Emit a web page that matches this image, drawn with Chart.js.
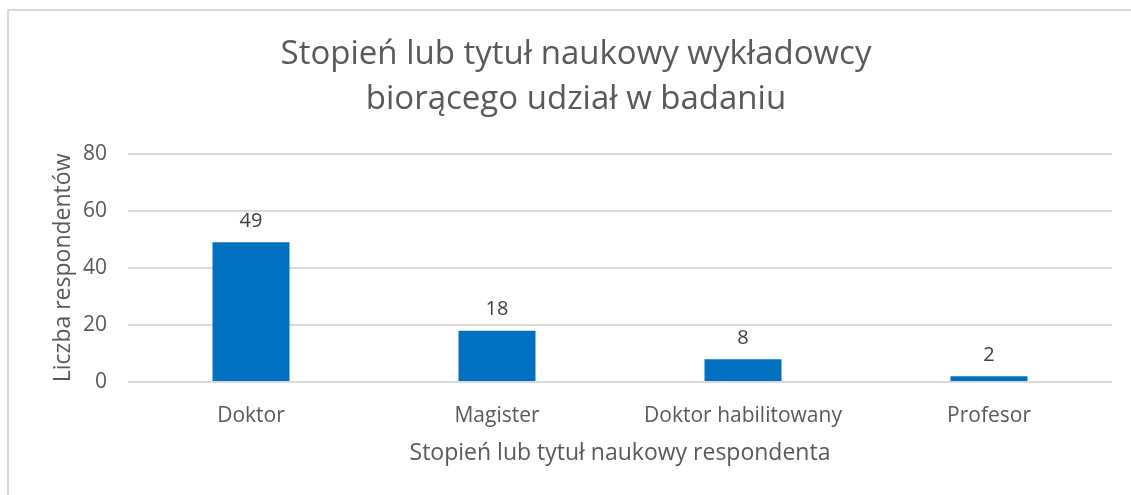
<!DOCTYPE html>
<html>
<head>
<meta charset="utf-8">
<script src="https://cdn.jsdelivr.net/npm/chart.js@4/dist/chart.umd.min.js"></script>
<style>
  html, body { margin: 0; padding: 0; background: #fff; }
  #wrap { width: 1131px; height: 495px; position: relative; }
</style>
</head>
<body>
<div id="wrap"><canvas id="chart"></canvas></div>
<script>
const categories = ["Doktor", "Magister", "Doktor habilitowany", "Profesor"];
const respondents = [49, 18, 8, 2];
const yTicks = [0, 20, 40, 60, 80];

const FONT = "'Open Sans', 'DejaVu Sans', sans-serif";

// thin frame like the Excel chart area (only top and left edges are visible)
const framePlugin = {
  id: "frame",
  beforeDraw(chart) {
    const ctx = chart.ctx;
    ctx.save();
    ctx.strokeStyle = "#d9d9d9";
    ctx.lineWidth = 2;
    ctx.beginPath();
    ctx.moveTo(8, 495);
    ctx.lineTo(8, 10);
    ctx.lineTo(1131, 10);
    ctx.stroke();
    ctx.restore();
  },
};

// value labels above bars
const valueLabels = {
  id: "valueLabels",
  afterDatasetsDraw(chart) {
    const ctx = chart.ctx;
    const meta = chart.getDatasetMeta(0);
    ctx.save();
    ctx.font = "20px " + FONT;
    ctx.fillStyle = "#404040";
    ctx.textAlign = "center";
    ctx.textBaseline = "bottom";
    meta.data.forEach((bar, i) => {
      ctx.fillText(String(respondents[i]), bar.x, bar.y - 11);
    });
    ctx.restore();
  },
};

new Chart(document.getElementById("chart"), {
  type: "bar",
  data: {
    labels: categories,
    datasets: [
      {
        data: respondents,
        backgroundColor: "#0070c0",
        categoryPercentage: 1,
        barPercentage: 0.313,
      },
    ],
  },
  options: {
    responsive: true,
    maintainAspectRatio: false,
    animation: false,
    layout: { padding: { left: 40, right: 19, top: 12, bottom: 28 } },
    plugins: {
      legend: { display: false },
      tooltip: { enabled: false },
      title: {
        display: true,
        text: ["Stopień lub tytuł naukowy wykładowcy", "biorącego udział w badaniu"],
        color: "#595959",
        font: { family: FONT, size: 33, weight: "normal", lineHeight: 1.36 },
        padding: { top: 20, bottom: 32 },
      },
    },
    scales: {
      x: {
        afterFit(scale) {
          scale.height = 85;
        },
        grid: { display: false, drawTicks: false },
        border: { display: false },
        ticks: {
          color: "#595959",
          font: { family: FONT, size: 21 },
          padding: 21,
        },
        title: {
          display: true,
          text: "Stopień lub tytuł naukowy respondenta",
          color: "#595959",
          font: { family: FONT, size: 23 },
          padding: { top: 0, bottom: 0 },
        },
      },
      y: {
        min: 0,
        max: 80,
        afterBuildTicks(scale) {
          scale.ticks = yTicks.map((v) => ({ value: v }));
        },
        afterFit(scale) {
          scale.width = 88;
        },
        grid: { color: "#d9d9d9", lineWidth: 2, drawTicks: false },
        border: { display: false },
        ticks: {
          color: "#595959",
          font: { family: FONT, size: 21 },
          padding: 21,
        },
        title: {
          display: true,
          text: "Liczba respondentów",
          color: "#595959",
          font: { family: FONT, size: 23 },
          padding: { top: 10, bottom: 0 },
        },
      },
    },
  },
  plugins: [framePlugin, valueLabels],
});
</script>
</body>
</html>
